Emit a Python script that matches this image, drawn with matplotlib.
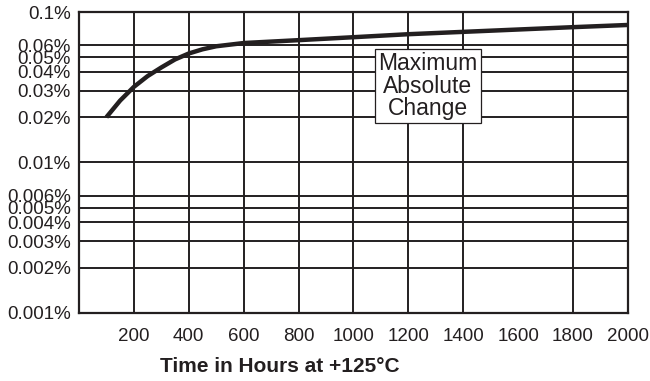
import matplotlib.pyplot as plt
from matplotlib.ticker import FixedLocator, NullLocator

plt.rcParams['font.family'] = ['Liberation Sans', 'DejaVu Sans']

# curve (hours, % change)
hours = [100, 150, 200, 250, 300, 350, 400, 450, 500, 600, 800, 1000, 1200, 1400, 1600, 1800, 2000]
change = [0.0200, 0.0258, 0.0318, 0.0375, 0.0428, 0.0484, 0.0530, 0.0565, 0.0592, 0.0622, 0.0650,
          0.0680, 0.0712, 0.0738, 0.0765, 0.0793, 0.0820]

x_ticks = [200, 400, 600, 800, 1000, 1200, 1400, 1600, 1800, 2000]
x_grid = [200, 400, 600, 800, 1000, 1200, 1400, 1800]  # no line at 1600 in the original
y_ticks = [0.001, 0.002, 0.003, 0.004, 0.005, 0.006, 0.01, 0.02, 0.03, 0.04, 0.05, 0.06, 0.1]
y_labels = ['0.001%', '0.002%', '0.003%', '0.004%', '0.005%', '0.006%', '0.01%',
            '0.02%', '0.03%', '0.04%', '0.05%', '0.06%', '0.1%']

fig = plt.figure(figsize=(6.5, 3.81), dpi=100)
ax = fig.add_axes([0.1215, 0.1785, 0.8445, 0.79])

ax.set_yscale('log')
ax.set_xlim(0, 2000)
ax.set_ylim(0.001, 0.1)

# grid drawn by hand so the missing line can be kept
for x in x_grid:
    ax.axvline(x, color='#231f20', lw=1.4, zorder=1)
for y in y_ticks[1:-1]:
    ax.axhline(y, color='#231f20', lw=1.4, zorder=1)

ax.plot(hours, change, color='#231f20', lw=3.2, solid_capstyle='butt', zorder=3)

ax.text(1271, 0.0322, 'Maximum\nAbsolute\nChange', ha='center', va='center',
        fontsize=16.5, color='#231f20', linespacing=0.95, zorder=4,
        bbox=dict(boxstyle='square,pad=0.15', fc='white', ec='#231f20', lw=0.9))

ax.xaxis.set_major_locator(FixedLocator(x_ticks))
ax.set_xticklabels([str(t) for t in x_ticks])
ax.yaxis.set_major_locator(FixedLocator(y_ticks))
ax.yaxis.set_minor_locator(NullLocator())
ax.set_yticklabels(y_labels)
ax.tick_params(axis='both', length=0, labelsize=13.5, colors='#231f20')
ax.tick_params(axis='x', pad=11)
ax.tick_params(axis='y', pad=6)

for s in ax.spines.values():
    s.set_linewidth(1.6)
    s.set_color('#231f20')

fig.text(280 / 650, 1 - 367 / 381, 'Time in Hours at +125°C', ha='center', va='center',
         fontsize=15, fontweight='bold', color='#231f20')

fig.savefig('out.png', dpi=100)
